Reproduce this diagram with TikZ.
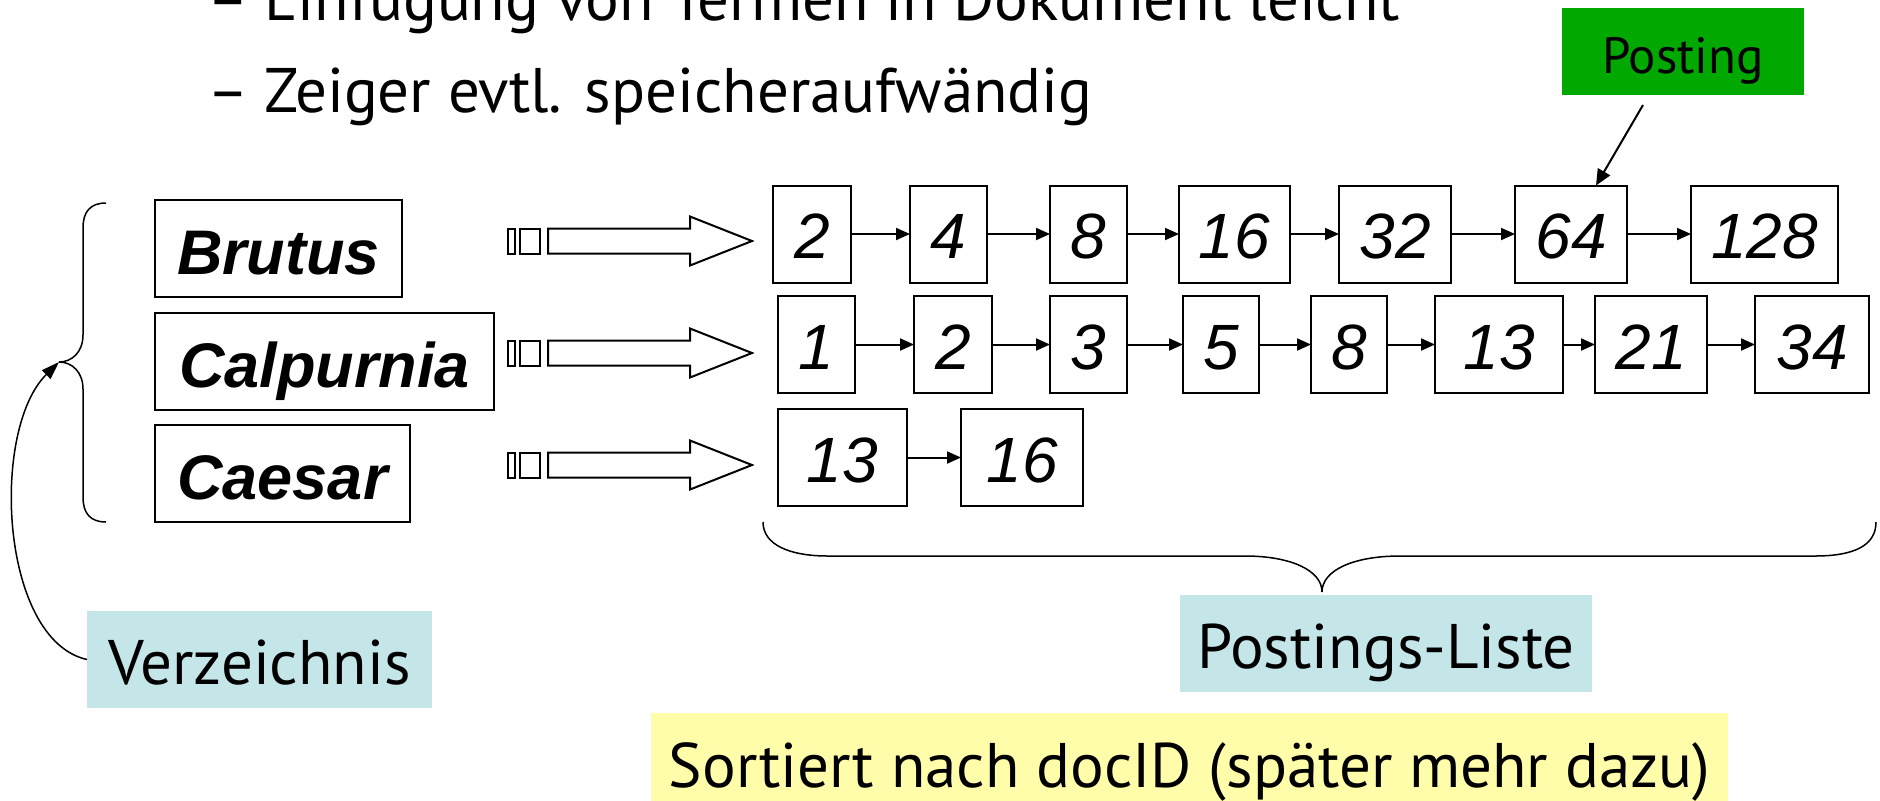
\documentclass[tikz,border=0pt]{standalone}
\usepackage{fontspec}
\setmainfont{PT Sans}
\newfontfamily\arialfont{Liberation Sans}
\usetikzlibrary{arrows.meta,calc}
\definecolor{postgreen}{RGB}{0,168,0}
\definecolor{tagcyan}{RGB}{197,230,232}
\definecolor{noteyellow}{RGB}{255,253,170}

\tikzset{
  blockarrow/.pic={
    \draw[line width=1pt] (0,-12.5) rectangle (7,12.5) (12,-12.5) rectangle (32,12.5);
    \draw[line width=1pt] (40,-12.5) -- (182,-12.5) -- (182,-24.5) -- (244,0)
      -- (182,24.5) -- (182,12.5) -- (40,12.5) -- cycle;
  }
}

\begin{document}
\begin{tikzpicture}[x=0.5pt,y=-0.5pt,
  every node/.style={inner sep=0pt,outer sep=0pt},
  bullet/.style={anchor=base west,font=\fontsize{31.5}{36}\selectfont},
  termbox/.style={draw,line width=1pt,minimum height=48.5pt,text height=37pt,text depth=11.5pt,
    font=\arialfont\bfseries\itshape\fontsize{31.5}{36}\selectfont},
  docbox/.style={draw,line width=1pt,minimum height=48.5pt,text height=36.5pt,text depth=12pt,
    font=\arialfont\itshape\fontsize{32}{36}\selectfont},
  tagbox/.style={fill=tagcyan,minimum height=48.5pt,text height=36.5pt,text depth=12pt,
    font=\fontsize{31.5}{36}\selectfont},
  link/.style={line width=1pt,-{Triangle[length=7pt,width=6pt]}},
  thin/.style={line width=0.75pt}]
\useasboundingbox (0,0) rectangle (1880,800);

% bullet lines
\node[bullet] (dash1) at (207,20) {–};
\node[bullet] (line1) at (264,20) {Einfügung von Termen in Dokument leicht};
\node[bullet] (dash2) at (207,112) {–};
\node[bullet] (line2) at (264,112) {Zeiger evtl. speicheraufwändig};

% dictionary terms
\node[termbox,minimum width=123.5pt] (brutus) at (278.5,248.5) {Brutus};
\node[termbox,minimum width=169.5pt] (calpurnia) at (324.5,361.5) {Calpurnia};
\node[termbox,minimum width=127.5pt] (caesar) at (282.5,473.5) {Caesar};

% pointers from terms to lists
\pic at (508,241) {blockarrow};
\pic at (508,353) {blockarrow};
\pic at (508,465) {blockarrow};

% postings of Brutus
\node[docbox,minimum width=39pt]   (a1) at (812,234)    {2};
\node[docbox,minimum width=38.5pt] (a2) at (948.5,234)  {4};
\node[docbox,minimum width=38.5pt] (a3) at (1088.5,234) {8};
\node[docbox,minimum width=55.5pt] (a4) at (1234.5,234) {16};
\node[docbox,minimum width=56pt]   (a5) at (1395,234)   {32};
\node[docbox,minimum width=56pt]   (a6) at (1571,234)   {64};
\node[docbox,minimum width=73.5pt] (a7) at (1764.5,234) {128};

% postings of Calpurnia
\node[docbox,minimum width=38.5pt] (b1) at (816.5,344.5)  {1};
\node[docbox,minimum width=39pt]   (b2) at (953,344.5)    {2};
\node[docbox,minimum width=38.5pt] (b3) at (1088.5,344.5) {3};
\node[docbox,minimum width=38pt]   (b4) at (1221,344.5)   {5};
\node[docbox,minimum width=38pt]   (b5) at (1349,344.5)   {8};
\node[docbox,minimum width=64pt]   (b6) at (1499,344.5)   {13};
\node[docbox,minimum width=56pt]   (b7) at (1651,344.5)   {21};
\node[docbox,minimum width=57pt]   (b8) at (1812,344.5)   {34};

% postings of Caesar
\node[docbox,minimum width=64.5pt] (c1) at (842.5,457.5) {13};
\node[docbox,minimum width=61pt]   (c2) at (1022,457.5)  {16};

\foreach \p/\q in {a1/a2,a2/a3,a3/a4,a4/a5,a5/a6,a6/a7,
                   b1/b2,b2/b3,b3/b4,b4/b5,b5/b6,b6/b7,b7/b8,c1/c2}
  \draw[link] (\p.east) -- (\q.west);

% posting label
\node[fill=postgreen,minimum width=121pt,minimum height=43.5pt,text height=32.5pt,text depth=11pt,
  font=\fontsize{25.5}{30}\selectfont] (posting) at (1683,51.5) {Posting};
\coordinate (pstart) at (1643,105);
\draw[line width=1pt,-{Triangle[length=8pt,width=7pt]}] (pstart) -- ([xshift=12.5pt]a6.north);

% brace around the dictionary
\coordinate (brtip) at (59,362);
\draw[thin] (106,203) .. controls (90,203) and (83,212) .. (83,228) -- (83,335)
  .. controls (83,352) and (72,362) .. (brtip)
  .. controls (72,362) and (83,372) .. (83,389) -- (83,497)
  .. controls (83,513) and (90,522) .. (106,522);

% brace under the postings
\coordinate (pltip) at (1322,592);
\draw[thin] (763,522) .. controls (763,545) and (790,556) .. (828,556) -- (1245,556)
  .. controls (1290,556) and (1322,570) .. (pltip)
  .. controls (1322,570) and (1354,556) .. (1400,556) -- (1815,556)
  .. controls (1855,556) and (1876,545) .. (1876,522);

% captions
\node[tagbox,minimum width=172.5pt] (verz) at (259.5,659.5) {Verzeichnis};
\node[tagbox,minimum width=206pt] (plist) at (1386,643.5) {Postings-Liste};
\draw[thin,-{Triangle[length=9pt,width=6pt]}] (verz.west) .. controls (0,640) and (-10,430) .. (brtip);

\node[fill=noteyellow,anchor=north west,minimum width=538.5pt,minimum height=47pt,
  text height=37pt,text depth=10pt,font=\fontsize{31.5}{36}\selectfont] (note) at (651,713)
  {Sortiert nach docID (später mehr dazu)};
\end{tikzpicture}
\end{document}
